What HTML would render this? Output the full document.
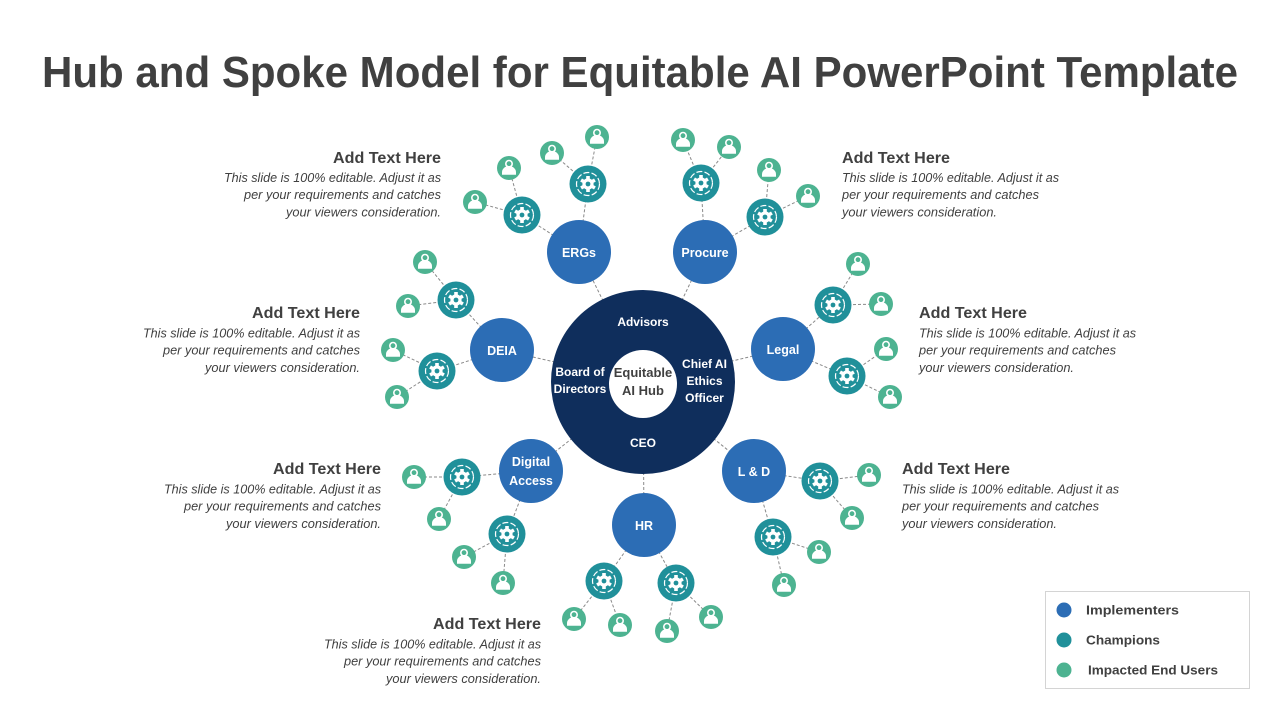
<!DOCTYPE html>
<html>
<head>
<meta charset="utf-8">
<style>
  html,body{margin:0;padding:0;background:#fff;}
  body{width:1280px;height:720px;overflow:hidden;}
  svg{display:block;}
  text{font-family:"Liberation Sans",Arial,sans-serif;}
</style>
</head>
<body>
<svg width="1280" height="720" viewBox="0 0 1280 720" xmlns="http://www.w3.org/2000/svg">
  <defs>
    <g id="champ">
      <circle r="18.5" fill="#20909A"/>
      <circle r="11.5" fill="none" stroke="#fff" stroke-width="1.2" stroke-dasharray="6 2.2"/>
      <g fill="#fff">
        <circle r="5.6"/>
        <rect x="-1.8" y="-8" width="3.6" height="3.5"/>
        <rect x="-1.8" y="-8" width="3.6" height="3.5" transform="rotate(60)"/>
        <rect x="-1.8" y="-8" width="3.6" height="3.5" transform="rotate(120)"/>
        <rect x="-1.8" y="-8" width="3.6" height="3.5" transform="rotate(180)"/>
        <rect x="-1.8" y="-8" width="3.6" height="3.5" transform="rotate(240)"/>
        <rect x="-1.8" y="-8" width="3.6" height="3.5" transform="rotate(300)"/>
      </g>
      <circle r="2.4" fill="#20909A"/>
    </g>
    <g id="user">
      <circle r="12" fill="#4DB391"/>
      <circle cy="-4.3" r="3.2" fill="none" stroke="#fff" stroke-width="1.6"/>
      <path d="M-7,6.8 L-7,4.2 A7,6.2 0 0 1 7,4.2 L7,6.8 Z" fill="#fff"/>
    </g>
  </defs>

  <!-- Title -->
  <text x="42" y="87" font-size="44" font-weight="bold" fill="#404040" textLength="1196" lengthAdjust="spacingAndGlyphs">Hub and Spoke Model for Equitable AI PowerPoint Template</text>

  <!-- connectors -->
  <g fill="none" stroke="#8a8a8a" stroke-width="1" stroke-dasharray="3 2">
    <path d="M643 382 L579 252 M643 382 L705 252 M643 382 L783 349 M643 382 L502 350 M643 382 L531 471 M643 382 L644 525 M643 382 L754 471"/>
    <path d="M579 252 L522 215 M579 252 L588 184 M705 252 L701 183 M705 252 L765 217 M783 349 L833 305 M783 349 L847 376 M502 350 L456 300 M502 350 L437 371 M531 471 L462 477 M531 471 L507 534 M644 525 L604 581 M644 525 L676 583 M754 471 L820 481 M754 471 L773 537"/>
    <path d="M522 215 L475 202 M522 215 L509 168 M588 184 L552 153 M588 184 L597 137 M701 183 L683 140 M701 183 L729 147 M765 217 L769 170 M765 217 L808 196 M833 305 L858 264 M833 305 L881 304 M847 376 L886 349 M847 376 L890 397 M456 300 L425 262 M456 300 L408 306 M437 371 L393 350 M437 371 L397 397 M462 477 L414 477 M462 477 L439 519 M507 534 L464 557 M507 534 L503 583 M604 581 L574 619 M604 581 L620 625 M676 583 L667 631 M676 583 L711 617 M820 481 L869 475 M820 481 L852 518 M773 537 L819 552 M773 537 L784 585"/>
  </g>

  <!-- Hub -->
  <circle cx="643" cy="382" r="92" fill="#0F2E5C"/>
  <circle cx="643" cy="384" r="34" fill="#fff"/>
  <g fill="#fff" font-size="12" font-weight="bold" text-anchor="middle">
    <text x="643" y="326">Advisors</text>
    <text x="580" y="376">Board of</text>
    <text x="580" y="393">Directors</text>
    <text x="704.5" y="368">Chief AI</text>
    <text x="704.5" y="385">Ethics</text>
    <text x="704.5" y="402">Officer</text>
    <text x="643" y="447">CEO</text>
  </g>
  <g fill="#404040" font-size="13" font-weight="bold" text-anchor="middle">
    <text x="643" y="377">Equitable</text>
    <text x="643" y="395">AI Hub</text>
  </g>

  <!-- Implementers -->
  <g fill="#2C6DB5">
    <circle cx="579" cy="252" r="32"/>
    <circle cx="705" cy="252" r="32"/>
    <circle cx="783" cy="349" r="32"/>
    <circle cx="502" cy="350" r="32"/>
    <circle cx="531" cy="471" r="32"/>
    <circle cx="644" cy="525" r="32"/>
    <circle cx="754" cy="471" r="32"/>
  </g>
  <g fill="#fff" font-size="12.5" font-weight="bold" text-anchor="middle">
    <text x="579" y="257">ERGs</text>
    <text x="705" y="257">Procure</text>
    <text x="783" y="354">Legal</text>
    <text x="502" y="355">DEIA</text>
    <text x="531" y="466">Digital</text>
    <text x="531" y="485">Access</text>
    <text x="644" y="530">HR</text>
    <text x="754" y="476">L &amp; D</text>
  </g>

  <!-- Champions -->
  <use href="#champ" x="522" y="215"/>
  <use href="#champ" x="588" y="184"/>
  <use href="#champ" x="701" y="183"/>
  <use href="#champ" x="765" y="217"/>
  <use href="#champ" x="833" y="305"/>
  <use href="#champ" x="847" y="376"/>
  <use href="#champ" x="456" y="300"/>
  <use href="#champ" x="437" y="371"/>
  <use href="#champ" x="462" y="477"/>
  <use href="#champ" x="507" y="534"/>
  <use href="#champ" x="604" y="581"/>
  <use href="#champ" x="676" y="583"/>
  <use href="#champ" x="820" y="481"/>
  <use href="#champ" x="773" y="537"/>

  <!-- Users -->
  <use href="#user" x="475" y="202"/>
  <use href="#user" x="509" y="168"/>
  <use href="#user" x="552" y="153"/>
  <use href="#user" x="597" y="137"/>
  <use href="#user" x="683" y="140"/>
  <use href="#user" x="729" y="147"/>
  <use href="#user" x="769" y="170"/>
  <use href="#user" x="808" y="196"/>
  <use href="#user" x="858" y="264"/>
  <use href="#user" x="881" y="304"/>
  <use href="#user" x="886" y="349"/>
  <use href="#user" x="890" y="397"/>
  <use href="#user" x="425" y="262"/>
  <use href="#user" x="408" y="306"/>
  <use href="#user" x="393" y="350"/>
  <use href="#user" x="397" y="397"/>
  <use href="#user" x="414" y="477"/>
  <use href="#user" x="439" y="519"/>
  <use href="#user" x="464" y="557"/>
  <use href="#user" x="503" y="583"/>
  <use href="#user" x="574" y="619"/>
  <use href="#user" x="620" y="625"/>
  <use href="#user" x="667" y="631"/>
  <use href="#user" x="711" y="617"/>
  <use href="#user" x="869" y="475"/>
  <use href="#user" x="852" y="518"/>
  <use href="#user" x="819" y="552"/>
  <use href="#user" x="784" y="585"/>

  <!-- Text blocks (right aligned) -->
  <g fill="#404040">
    <!-- ERGs: right 441 -->
    <text x="333" y="163" font-size="16" font-weight="bold" textLength="108" lengthAdjust="spacingAndGlyphs">Add Text Here</text>
    <text x="224" y="182" font-size="12.5" font-style="italic" textLength="217" lengthAdjust="spacingAndGlyphs">This slide is 100% editable. Adjust it as</text>
    <text x="244" y="199" font-size="12.5" font-style="italic" textLength="197" lengthAdjust="spacingAndGlyphs">per your requirements and catches</text>
    <text x="286" y="216.5" font-size="12.5" font-style="italic" textLength="155" lengthAdjust="spacingAndGlyphs">your viewers consideration.</text>

    <!-- DEIA: right 360 -->
    <text x="252" y="318" font-size="16" font-weight="bold" textLength="108" lengthAdjust="spacingAndGlyphs">Add Text Here</text>
    <text x="143" y="337.5" font-size="12.5" font-style="italic" textLength="217" lengthAdjust="spacingAndGlyphs">This slide is 100% editable. Adjust it as</text>
    <text x="163" y="354.5" font-size="12.5" font-style="italic" textLength="197" lengthAdjust="spacingAndGlyphs">per your requirements and catches</text>
    <text x="205" y="372" font-size="12.5" font-style="italic" textLength="155" lengthAdjust="spacingAndGlyphs">your viewers consideration.</text>

    <!-- Digital: right 381 -->
    <text x="273" y="474" font-size="16" font-weight="bold" textLength="108" lengthAdjust="spacingAndGlyphs">Add Text Here</text>
    <text x="164" y="493.5" font-size="12.5" font-style="italic" textLength="217" lengthAdjust="spacingAndGlyphs">This slide is 100% editable. Adjust it as</text>
    <text x="184" y="510.5" font-size="12.5" font-style="italic" textLength="197" lengthAdjust="spacingAndGlyphs">per your requirements and catches</text>
    <text x="226" y="528" font-size="12.5" font-style="italic" textLength="155" lengthAdjust="spacingAndGlyphs">your viewers consideration.</text>

    <!-- HR: right 541 -->
    <text x="433" y="629" font-size="16" font-weight="bold" textLength="108" lengthAdjust="spacingAndGlyphs">Add Text Here</text>
    <text x="324" y="648.5" font-size="12.5" font-style="italic" textLength="217" lengthAdjust="spacingAndGlyphs">This slide is 100% editable. Adjust it as</text>
    <text x="344" y="665.5" font-size="12.5" font-style="italic" textLength="197" lengthAdjust="spacingAndGlyphs">per your requirements and catches</text>
    <text x="386" y="683" font-size="12.5" font-style="italic" textLength="155" lengthAdjust="spacingAndGlyphs">your viewers consideration.</text>

    <!-- Procure: left 842 -->
    <text x="842" y="163" font-size="16" font-weight="bold" textLength="108" lengthAdjust="spacingAndGlyphs">Add Text Here</text>
    <text x="842" y="182" font-size="12.5" font-style="italic" textLength="217" lengthAdjust="spacingAndGlyphs">This slide is 100% editable. Adjust it as</text>
    <text x="842" y="199" font-size="12.5" font-style="italic" textLength="197" lengthAdjust="spacingAndGlyphs">per your requirements and catches</text>
    <text x="842" y="216.5" font-size="12.5" font-style="italic" textLength="155" lengthAdjust="spacingAndGlyphs">your viewers consideration.</text>

    <!-- Legal: left 919 -->
    <text x="919" y="318" font-size="16" font-weight="bold" textLength="108" lengthAdjust="spacingAndGlyphs">Add Text Here</text>
    <text x="919" y="337.5" font-size="12.5" font-style="italic" textLength="217" lengthAdjust="spacingAndGlyphs">This slide is 100% editable. Adjust it as</text>
    <text x="919" y="354.5" font-size="12.5" font-style="italic" textLength="197" lengthAdjust="spacingAndGlyphs">per your requirements and catches</text>
    <text x="919" y="372" font-size="12.5" font-style="italic" textLength="155" lengthAdjust="spacingAndGlyphs">your viewers consideration.</text>

    <!-- L&D: left 902 -->
    <text x="902" y="474" font-size="16" font-weight="bold" textLength="108" lengthAdjust="spacingAndGlyphs">Add Text Here</text>
    <text x="902" y="493.5" font-size="12.5" font-style="italic" textLength="217" lengthAdjust="spacingAndGlyphs">This slide is 100% editable. Adjust it as</text>
    <text x="902" y="510.5" font-size="12.5" font-style="italic" textLength="197" lengthAdjust="spacingAndGlyphs">per your requirements and catches</text>
    <text x="902" y="528" font-size="12.5" font-style="italic" textLength="155" lengthAdjust="spacingAndGlyphs">your viewers consideration.</text>
  </g>

  <!-- Legend -->
  <rect x="1045.5" y="591.5" width="204" height="97" fill="#fff" stroke="#d4d4d4" stroke-width="1"/>
  <circle cx="1064" cy="610" r="7.5" fill="#2C6DB5"/>
  <circle cx="1064" cy="640" r="7.5" fill="#20909A"/>
  <circle cx="1064" cy="670" r="7.5" fill="#4DB391"/>
  <g fill="#404040" font-size="13" font-weight="bold">
    <text x="1086" y="614.5" textLength="93" lengthAdjust="spacingAndGlyphs">Implementers</text>
    <text x="1086" y="644.5" textLength="74" lengthAdjust="spacingAndGlyphs">Champions</text>
    <text x="1088" y="674.5" textLength="130" lengthAdjust="spacingAndGlyphs">Impacted End Users</text>
  </g>
</svg>
</body>
</html>
